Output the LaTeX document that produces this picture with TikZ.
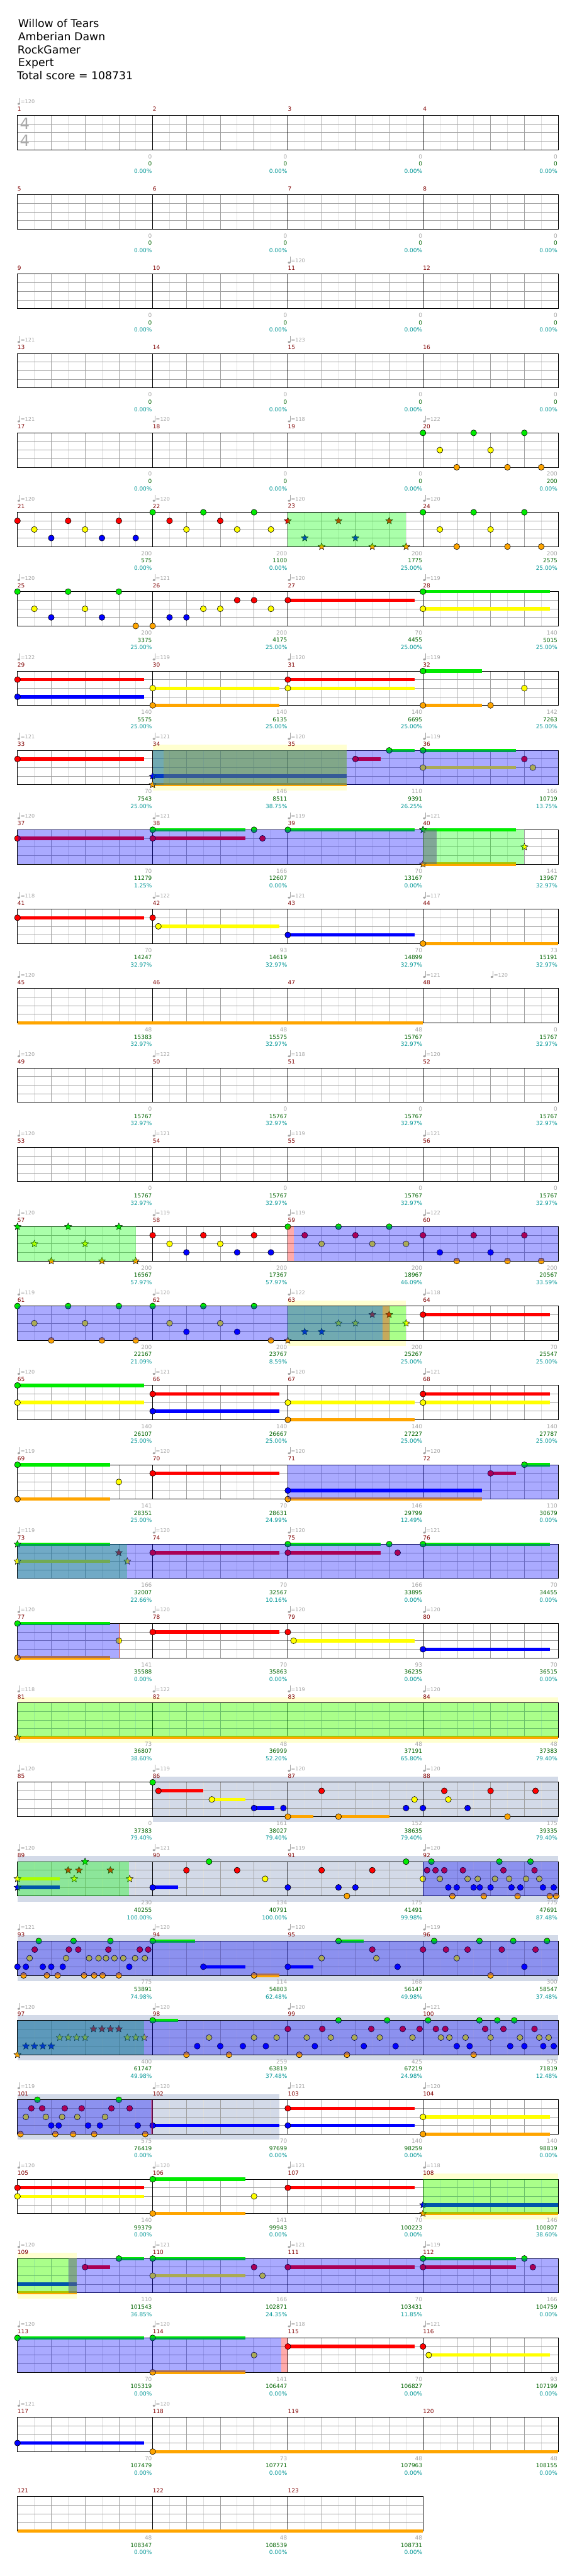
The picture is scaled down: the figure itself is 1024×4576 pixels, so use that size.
\documentclass[tikz,border=0pt]{standalone}
\usepackage{fontspec}
\setmainfont{DejaVu Sans}
\usetikzlibrary{shapes.geometric}

\definecolor{lane0}{RGB}{0,235,0}
\definecolor{lane1}{RGB}{255,0,0}
\definecolor{lane2}{RGB}{255,255,0}
\definecolor{lane3}{RGB}{0,0,255}
\definecolor{lane4}{RGB}{255,165,0}
\definecolor{barred}{RGB}{128,0,0}
\definecolor{tempogray}{RGB}{165,165,165}
\definecolor{scoregreen}{RGB}{0,100,0}
\definecolor{pctcyan}{RGB}{0,150,150}
\definecolor{beatgray}{RGB}{160,160,160}
\definecolor{halfgray}{RGB}{222,222,222}
\definecolor{soloyellow}{RGB}{255,255,208}
\definecolor{sologray}{RGB}{211,218,232}
\definecolor{phrasegreen}{RGB}{0,255,0}
\definecolor{activeblue}{RGB}{0,0,255}
\definecolor{activered}{RGB}{255,0,0}
\definecolor{overlap}{RGB}{76,131,108}

\tikzset{
  title/.style={anchor=base west, inner sep=0pt, font=\fontsize{14.5}{17}\selectfont},
  barno/.style={anchor=west, inner sep=0pt, text=barred, font=\fontsize{7.5}{8}\selectfont},
  tempo/.style={anchor=west, inner sep=0pt, text=tempogray, font=\fontsize{6.8}{7}\selectfont},
  streak/.style={anchor=east, inner sep=0pt, text=tempogray, font=\fontsize{7.5}{8}\selectfont},
  score/.style={anchor=east, inner sep=0pt, text=scoregreen, font=\fontsize{7.5}{8}\selectfont},
  pct/.style={anchor=east, inner sep=0pt, text=pctcyan, font=\fontsize{7.5}{8}\selectfont},
  timesig/.style={inner sep=0pt, text={rgb,255:red,170;green,170;blue,170}, font=\fontsize{20.5}{21}\selectfont},
  gem/.style={circle, draw=black, line width=0.5pt, minimum size=7.9pt, inner sep=0pt},
  stargem/.style={star, star points=5, star point ratio=2.2, draw=black, line width=0.4pt, minimum size=9.8pt, inner sep=0pt},
  halfline/.style={draw=halfgray, line width=0.6pt},
  beatline/.style={draw=beatgray, line width=0.6pt},
  measline/.style={draw=black, line width=0.75pt},
  zg/.style={fill=phrasegreen, fill opacity=0.333},
  zb/.style={fill=activeblue, fill opacity=0.333},
  zr/.style={fill=activered, fill opacity=0.333},
  zx/.style={fill=overlap, fill opacity=0.7}
}

\begin{document}
\begin{tikzpicture}[x=0.75pt, y=-0.75pt]
  \useasboundingbox (0,0) rectangle (1024,4576);
  \fill[white] (0,0) rectangle (1024,4576);

  % header
  \node[title] (song)   at (32,49)  {Willow of Tears};
  \node[title] (artist) at (32,72)  {Amberian Dawn};
  \node[title] (chart)  at (31,95)  {RockGamer};
  \node[title] (level)  at (32,118) {Expert};
  \node[title] (total)  at (30,141) {Total score = 108731};

  % solo bands
  \foreach \rw/\sb/\se in {8/4/9.75, 15/8/11.5, 20/0/16, 26/12/16, 27/0/1.75}
    \fill[soloyellow] (31+60*\sb,195+141*\rw) rectangle (31+60*\se,276+141*\rw);
  \foreach \rw/\sb/\se in {21/4/16, 22/0/16, 23/0/16, 24/0/16, 25/0/7.75}
    \fill[sologray] (31+60*\sb,195+141*\rw) rectangle (31+60*\se,276+141*\rw);

  % staves
  \foreach \rw in {0,...,30}{
    \pgfmathtruncatemacro\nb{\rw==30 ? 12 : 16}
    \pgfmathtruncatemacro\nm{\nb/4-1}
    \pgfmathsetmacro\yt{205+141*\rw}
    \pgfmathsetmacro\xe{31+60*\nb}
    \foreach \i in {1,...,\nb} \draw[halfline] (1+60*\i,\yt) -- (1+60*\i,\yt+61);
    \foreach \j in {1,2,3} \draw[beatline] (31,\yt+15.25*\j) -- (\xe,\yt+15.25*\j);
    \foreach \i in {1,...,\nb} \draw[beatline] (31+60*\i,\yt) -- (31+60*\i,\yt+61);
    \foreach \j in {1,...,\nm} \draw[measline] (31+240*\j,\yt) -- (31+240*\j,\yt+61);
    \draw[measline] (31,\yt) rectangle (\xe,\yt+61);
  }
  \node[timesig] (sigtop) at (44,220) {4};
  \node[timesig] (sigbot) at (44,250) {4};

  % tempo marks
  \foreach \ms/\tp [count=\k] in {1/120, 11/120, 13/121, 15/123, 17/121, 18/120, 19/118, 20/122,
      21/120, 22/120, 23/120, 24/120, 25/120, 26/121, 27/120, 28/119, 29/122, 30/119, 31/120, 32/119,
      33/121, 34/121, 35/120, 36/119, 37/120, 38/121, 39/119, 40/121, 41/118, 42/122, 43/121, 44/117,
      45/120, 48/121, 48.5/120, 49/120, 50/122, 51/118, 52/120, 53/120, 54/121, 55/119, 56/121,
      57/120, 58/119, 59/119, 60/122, 61/119, 62/120, 63/122, 64/118, 65/120, 66/121, 67/120, 68/121,
      69/119, 70/120, 71/120, 72/120, 73/119, 74/120, 75/120, 76/121, 77/120, 78/120, 79/120, 80/120,
      81/118, 82/122, 83/119, 84/120, 85/120, 86/119, 87/120, 88/120, 89/120, 90/121, 91/119, 92/120,
      93/121, 94/120, 95/120, 96/119, 97/120, 98/120, 99/120, 100/121, 101/119, 102/120, 103/121, 104/120,
      105/120, 106/120, 107/121, 108/118, 109/120, 110/121, 111/121, 112/119, 113/120, 114/120, 115/118, 116/121,
      117/121, 118/120}{
    \pgfmathtruncatemacro\mi{\ms}
    \pgfmathtruncatemacro\rw{(\mi-1)/4}
    \pgfmathsetmacro\xs{31+240*(\ms-1-4*\rw)}
    \pgfmathsetmacro\yt{205+141*\rw}
    \fill[tempogray] (\xs+2.4,\yt-20.5) ellipse (1.8pt and 1.3pt);
    \draw[tempogray, line width=0.6pt] (\xs+4.4,\yt-20.5) -- (\xs+4.4,\yt-31);
    \node[tempo] (bpm\k) at (\xs+5.5,\yt-24) {=\tp};
  }

  % bar numbers and running totals
  \foreach \ms/\stk/\tot/\pc in {1/0/0/0.00, 2/0/0/0.00, 3/0/0/0.00, 4/0/0/0.00,
      5/0/0/0.00, 6/0/0/0.00, 7/0/0/0.00, 8/0/0/0.00, 9/0/0/0.00, 10/0/0/0.00, 11/0/0/0.00, 12/0/0/0.00,
      13/0/0/0.00, 14/0/0/0.00, 15/0/0/0.00, 16/0/0/0.00, 17/0/0/0.00, 18/0/0/0.00, 19/0/0/0.00, 20/200/200/0.00,
      21/200/575/0.00, 22/200/1100/0.00, 23/200/1775/25.00, 24/200/2575/25.00,
      25/200/3375/25.00, 26/200/4175/25.00, 27/70/4455/25.00, 28/140/5015/25.00,
      29/140/5575/25.00, 30/140/6135/25.00, 31/140/6695/25.00, 32/142/7263/25.00,
      33/70/7543/25.00, 34/146/8511/38.75, 35/110/9391/26.25, 36/166/10719/13.75,
      37/70/11279/1.25, 38/166/12607/0.00, 39/70/13167/0.00, 40/141/13967/32.97,
      41/70/14247/32.97, 42/93/14619/32.97, 43/70/14899/32.97, 44/73/15191/32.97,
      45/48/15383/32.97, 46/48/15575/32.97, 47/48/15767/32.97, 48/0/15767/32.97,
      49/0/15767/32.97, 50/0/15767/32.97, 51/0/15767/32.97, 52/0/15767/32.97,
      53/0/15767/32.97, 54/0/15767/32.97, 55/0/15767/32.97, 56/0/15767/32.97,
      57/200/16567/57.97, 58/200/17367/57.97, 59/200/18967/46.09, 60/200/20567/33.59,
      61/200/22167/21.09, 62/200/23767/8.59, 63/200/25267/25.00, 64/70/25547/25.00,
      65/140/26107/25.00, 66/140/26667/25.00, 67/140/27227/25.00, 68/140/27787/25.00,
      69/141/28351/25.00, 70/70/28631/24.99, 71/146/29799/12.49, 72/110/30679/0.00,
      73/166/32007/22.66, 74/70/32567/10.16, 75/166/33895/0.00, 76/70/34455/0.00,
      77/141/35588/0.00, 78/70/35863/0.00, 79/93/36235/0.00, 80/70/36515/0.00,
      81/73/36807/38.60, 82/48/36999/52.20, 83/48/37191/65.80, 84/48/37383/79.40,
      85/0/37383/79.40, 86/161/38027/79.40, 87/152/38635/79.40, 88/175/39335/79.40,
      89/230/40255/100.00, 90/134/40791/100.00, 91/175/41491/99.98, 92/775/47691/87.48,
      93/775/53891/74.98, 94/114/54803/62.48, 95/168/56147/49.98, 96/300/58547/37.48,
      97/400/61747/49.98, 98/259/63819/37.48, 99/425/67219/24.98, 100/575/71819/12.48,
      101/575/76419/0.00, 102/70/97699/0.00, 103/140/98259/0.00, 104/140/98819/0.00,
      105/140/99379/0.00, 106/141/99943/0.00, 107/70/100223/0.00, 108/146/100807/38.60,
      109/110/101543/36.85, 110/166/102871/24.35, 111/70/103431/11.85, 112/166/104759/0.00,
      113/70/105319/0.00, 114/141/106447/0.00, 115/70/106827/0.00, 116/93/107199/0.00,
      117/70/107479/0.00, 118/73/107771/0.00, 119/48/107963/0.00, 120/48/108155/0.00,
      121/48/108347/0.00, 122/48/108539/0.00, 123/48/108731/0.00}{
    \pgfmathtruncatemacro\rw{(\ms-1)/4}
    \pgfmathtruncatemacro\col{\ms-1-4*\rw}
    \node[barno] (bar\ms) at (31+240*\col,194+141*\rw) {\ms};
    \node[streak] (stk\ms) at (270+240*\col,278+141*\rw) {\stk};
    \node[score] (tot\ms) at (270+240*\col,291+141*\rw) {\tot};
    \node[pct] (pct\ms) at (270+240*\col,304+141*\rw) {\pc\%};
  }

  % sustains
  \foreach \rw/\sb/\se/\lane in {6/8/11.75/1, 6/12/15.75/0, 6/12/15.75/2,
      7/0/3.75/1, 7/0/3.75/3, 7/4/7.75/2, 7/4/7.75/4, 7/8/11.75/1, 7/8/11.75/2, 7/12/13.75/0, 7/12/13.75/4,
      8/0/3.75/1, 8/4/9.75/3, 8/4/9.75/4, 8/10/10.75/1, 8/11/11.75/0, 8/12/14.75/0, 8/12/14.75/2,
      9/0/3.75/1, 9/4/6.75/0, 9/4/6.75/1, 9/8/11.75/0, 9/12/14.75/0, 9/12/14.75/4,
      10/0/3.75/1, 10/4.17/7.75/2, 10/8/11.75/3, 10/12/16/4, 11/0/12/4, 15/12/15.75/1,
      16/0/3.75/0, 16/0/3.75/2, 16/4/7.75/1, 16/4/7.75/3, 16/8/11.75/2, 16/8/11.75/4, 16/12/15.75/1, 16/12/15.75/2,
      17/0/2.75/0, 17/0/2.75/4, 17/4/7.75/1, 17/8/13.75/3, 17/8/13.75/4, 17/14/14.75/1, 17/15/15.75/0,
      18/0/2.75/0, 18/0/2.75/2, 18/4/7.75/1, 18/8/10.75/0, 18/8/10.75/1, 18/12/15.75/0,
      19/0/2.75/0, 19/0/2.75/4, 19/4/7.75/1, 19/8.17/11.75/2, 19/12/15.75/3, 20/0/16/4,
      21/4.17/5.5/1, 21/5.75/6.75/2, 21/7/7.6/3, 21/8/8.75/4, 21/9.5/11/4,
      22/0/1.25/2, 22/0/1.25/3, 22/4/4.75/3,
      23/4/5.25/0, 23/5.5/6.75/3, 23/7/7.75/4, 23/8/8.75/3, 23/9.5/10.25/0, 24/4/4.75/0,
      25/4/7.75/3, 25/8/11.75/1, 25/8/11.75/3, 25/12/15.75/2, 25/12/15.75/4,
      26/0/3.75/1, 26/0/3.75/2, 26/4/6.75/0, 26/4/6.75/4, 26/8/11.75/1, 26/12/16/3, 26/12/16/4,
      27/0/1.75/3, 27/0/1.75/4, 27/2/2.75/1, 27/3/3.75/0, 27/4/6.75/0, 27/4/6.75/2, 27/8/11.75/1, 27/12/14.75/0, 27/12/14.75/1,
      28/0/3.75/0, 28/4/6.75/0, 28/4/6.75/4, 28/8/11.75/1, 28/12.17/15.75/2,
      29/0/3.75/3, 29/4/16/4, 30/0/12/4}
    \fill[lane\lane] (31+60*\sb,202+141*\rw+15.25*\lane) rectangle (31+60*\se,208+141*\rw+15.25*\lane);

  % notes
  \foreach \rw/\bt/\lane [count=\k] in {4/12/0, 4/13.5/0, 4/15/0, 4/12.5/2, 4/14/2, 4/13/4, 4/14.5/4, 4/15.5/4,
      5/0/1, 5/1.5/1, 5/3/1, 5/0.5/2, 5/2/2, 5/1/3, 5/2.5/3, 5/3.5/3, 5/4/0, 5/5.5/0, 5/7/0, 5/4.5/1, 5/6/1,
      5/5/2, 5/6.5/2, 5/7.5/2, 5/12/0, 5/13.5/0, 5/15/0, 5/12.5/2, 5/14/2, 5/13/4, 5/14.5/4, 5/15.5/4,
      6/0/0, 6/1.5/0, 6/3/0, 6/0.5/2, 6/2/2, 6/1/3, 6/2.5/3, 6/3.5/4, 6/4/4, 6/4.5/3, 6/5/3, 6/5.5/2, 6/6/2,
      6/7.5/2, 6/6.5/1, 6/7/1, 6/8/1, 6/12/0, 6/12/2,
      7/0/1, 7/0/3, 7/4/2, 7/4/4, 7/8/1, 7/8/2, 7/12/0, 7/12/4, 7/14/4, 7/15/2,
      8/0/1, 8/10/1, 8/11/0, 8/12/0, 8/12/2, 8/15/1, 8/15.25/2,
      9/0/1, 9/4/0, 9/4/1, 9/7/0, 9/7.25/1, 9/8/0,
      10/0/1, 10/4/1, 10/4.17/2, 10/8/3, 10/12/4,
      14/4/1, 14/5.5/1, 14/7/1, 14/4.5/2, 14/6/2, 14/5/3, 14/6.5/3, 14/7.5/3, 14/8/0, 14/8.5/1, 14/10/1,
      14/9/2, 14/10.5/2, 14/9.5/0, 14/11/0, 14/11.5/2, 14/12/1, 14/13.5/1, 14/15/1, 14/12.5/3, 14/14/3,
      14/13/4, 14/14.5/4, 14/15.5/4,
      15/0/0, 15/1.5/0, 15/3/0, 15/0.5/2, 15/2/2, 15/1/4, 15/2.5/4, 15/3.5/4, 15/4/0, 15/5.5/0, 15/7/0,
      15/4.5/2, 15/6/2, 15/5/3, 15/6.5/3, 15/7.5/4, 15/12/1,
      16/0/0, 16/0/2, 16/4/1, 16/4/3, 16/8/2, 16/8/4, 16/12/1, 16/12/2,
      17/0/0, 17/0/4, 17/3/2, 17/4/1, 17/8/3, 17/8/4, 17/14/1, 17/15/0,
      18/4/1, 18/8/0, 18/8/1, 18/11/0, 18/11.25/1, 18/12/0,
      19/0/0, 19/0/4, 19/3/2, 19/4/1, 19/8/1, 19/8.17/2, 19/12/3,
      21/4/0, 21/4.17/1, 21/5.75/2, 21/7/3, 21/7.87/3, 21/8/4, 21/9/1, 21/9.5/4, 21/11.5/3, 21/11.75/2,
      21/12/3, 21/12.63/1, 21/12.75/2, 21/13.32/3, 21/14/1, 21/14.5/4, 21/15.33/1,
      22/4/3, 22/5/1, 22/5.67/0, 22/6.5/1, 22/7.33/2, 22/8/3, 22/9/1, 22/9.5/3, 22/9.75/4, 22/10/3,
      22/10.5/1, 22/11.5/0, 22/12/2, 22/12.12/1, 22/12.25/0, 22/12.37/1, 22/12.5/2, 22/12.63/1, 22/12.75/3,
      22/12.87/4, 22/13/3, 22/13.18/1, 22/13.32/2, 22/13.5/3, 22/13.62/2, 22/13.68/3, 22/13.8/4, 22/14/3,
      22/14.13/2, 22/14.26/0, 22/14.38/1, 22/14.55/2, 22/14.62/3, 22/14.8/4, 22/14.88/3, 22/15.05/2,
      22/15.18/0, 22/15.3/1, 22/15.44/2, 22/15.55/3, 22/15.75/4, 22/15.87/3, 22/15.94/4,
      23/0/3, 23/0.25/3, 23/0.18/4, 23/0.36/2, 23/0.51/1, 23/0.63/0, 23/0.75/3, 23/1/3, 23/0.87/4, 23/1.19/4,
      23/1.34/3, 23/1.44/2, 23/1.52/1, 23/1.66/0, 23/1.8/1, 23/1.97/4, 23/2.12/2, 23/2.27/4, 23/2.4/2,
      23/2.52/4, 23/2.62/2, 23/2.69/1, 23/2.75/0, 23/2.87/2, 23/3/4, 23/3.13/2, 23/3.31/3, 23/3.48/2,
      23/3.62/1, 23/3.77/2, 23/3.87/1, 23/4/0, 23/5.5/3, 23/7/4, 23/8/3, 23/9/2, 23/9.5/0, 23/10.5/1,
      23/10.62/2, 23/11.25/3, 23/12/1, 23/12.33/0, 23/12.68/1, 23/13/2, 23/13.32/1, 23/13.67/0, 23/14/4,
      23/14.33/1, 23/14.67/0, 23/15/3, 23/15.33/1, 23/15.67/0,
      24/4/0, 24/5/4, 24/5.32/3, 24/5.67/2, 24/6/3, 24/6.26/4, 24/6.67/3, 24/7/2, 24/7.35/3, 24/7.67/2,
      24/8/1, 24/8.34/4, 24/8.56/2, 24/8.8/3, 24/9.02/1, 24/9.27/2, 24/9.5/0, 24/9.75/4, 24/9.97/2,
      24/10.25/3, 24/10.47/1, 24/10.72/2, 24/10.94/0, 24/11.19/3, 24/11.4/1, 24/11.69/2, 24/11.9/1,
      24/12.15/0, 24/12.38/1, 24/12.53/2, 24/12.66/1, 24/12.78/2, 24/13/3, 24/13.26/2, 24/13.38/3,
      24/13.5/4, 24/13.67/0, 24/13.84/1, 24/14/2, 24/14.2/0, 24/14.38/1, 24/14.58/3, 24/14.7/0,
      24/14.87/2, 24/15/3, 24/15.3/1, 24/15.44/2, 24/15.56/3, 24/15.72/2, 24/15.87/3,
      25/0.09/4, 25/0.25/2, 25/0.41/1, 25/0.59/0, 25/0.73/1, 25/0.84/2, 25/1/3, 25/1.12/4, 25/1.22/3,
      25/1.32/2, 25/1.4/1, 25/1.65/4, 25/1.77/2, 25/1.9/1, 25/2.09/3, 25/2.27/4, 25/2.44/3, 25/2.59/2,
      25/2.78/1, 25/3/0, 25/3.32/1, 25/3.56/3, 25/3.78/4, 25/4/3, 25/8/1, 25/8/3, 25/12/2, 25/12/4,
      26/0/1, 26/0/2, 26/4/0, 26/4/4, 26/7/2, 26/8/1,
      27/2/1, 27/3/0, 27/4/0, 27/4/2, 27/7/1, 27/7.25/2, 27/8/1, 27/12/0, 27/12/1, 27/15/0, 27/15.25/1,
      28/0/0, 28/4/0, 28/4/4, 28/7/2, 28/8/1, 28/12/1, 28/12.17/2,
      29/0/3, 29/4/4}
    \node[gem, fill=lane\lane] (gem\k) at (31+60*\bt,205+141*\rw+15.25*\lane) {};

  % star notes
  \foreach \rw/\bt/\lane [count=\k] in {5/8/1, 5/9.5/1, 5/11/1, 5/8.5/3, 5/10/3, 5/9/4, 5/10.5/4, 5/11.5/4,
      8/4/3, 8/4/4, 9/12/0, 9/12/4, 9/15/2,
      14/0/0, 14/1.5/0, 14/3/0, 14/0.5/2, 14/2/2, 14/1/4, 14/2.5/4, 14/3.5/4,
      15/8/4, 15/8.5/3, 15/9/3, 15/9.5/2, 15/10/2, 15/10.5/1, 15/11/1, 15/11.5/2,
      18/0/0, 18/0/2, 18/3/1, 18/3.25/2, 20/0/4,
      22/0/2, 22/0/3, 22/1.5/1, 22/1.68/2, 22/1.82/1, 22/2/0, 22/2.75/1, 22/3.32/2,
      24/0/4, 24/0.25/3, 24/0.5/3, 24/0.75/3, 24/1/3, 24/1.25/2, 24/1.5/2, 24/1.75/2, 24/2/2,
      24/2.25/1, 24/2.5/1, 24/2.75/1, 24/3/1, 24/3.25/2, 24/3.5/2, 24/3.75/2,
      26/12/3, 26/12/4}
    \node[stargem, fill=lane\lane] (star\k) at (31+60*\bt,205+141*\rw+15.25*\lane) {};

  % star power zones
  \foreach \rw/\sb/\se in {5/8/11.5, 8/4/4.33, 9/12.4/15, 14/0/3.5, 15/8/11.5, 18/0/3.25, 20/0/16,
      22/0/3.3, 24/0/3.75, 26/12/16, 27/0/1.52}
    \fill[zg] (31+60*\sb,205+141*\rw) rectangle (31+60*\se,266+141*\rw);
  \foreach \rw/\sb/\se in {8/4/4.33, 8/9.75/16, 9/0/12, 14/8.17/16, 15/0/10.8, 17/8/16, 18/0/16, 19/0/3,
      22/12/16, 23/0/16, 24/0/16, 25/0/4, 27/1.75/16, 28/0/7.8}
    \fill[zb] (31+60*\sb,205+141*\rw) rectangle (31+60*\se,266+141*\rw);
  \foreach \rw/\sb/\se in {14/8/8.17, 15/10.8/11, 19/3/3.04, 25/3.96/4, 28/7.8/8}
    \fill[zr] (31+60*\sb,205+141*\rw) rectangle (31+60*\se,266+141*\rw);
  \foreach \rw/\sb/\se in {8/4.33/9.75, 9/12/12.4, 27/1.52/1.75}
    \fill[zx] (31+60*\sb,205+141*\rw) rectangle (31+60*\se,266+141*\rw);
\end{tikzpicture}
\end{document}
